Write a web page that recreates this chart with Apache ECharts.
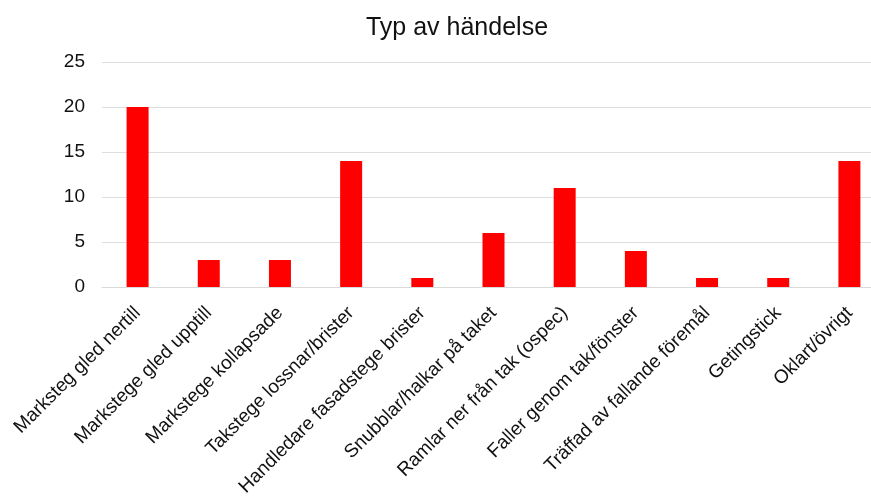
<!DOCTYPE html>
<html>
<head>
<meta charset="utf-8">
<script src="https://cdn.jsdelivr.net/npm/echarts@6/dist/echarts.min.js"></script>
<style>html,body{margin:0;padding:0;background:#fff;}#c{width:871px;height:501px;}</style>
</head>
<body>
<div id="c"></div>
<script>
const titleText = 'Typ av händelse';
const categories = [
  'Marksteg gled nertill',
  'Markstege gled upptill',
  'Markstege kollapsade',
  'Takstege lossnar/brister',
  'Handledare fasadstege brister',
  'Snubblar/halkar på taket',
  'Ramlar ner från tak (ospec)',
  'Faller genom tak/fönster',
  'Träffad av fallande föremål',
  'Getingstick',
  'Oklart/övrigt'
];
const values = [20, 3, 3, 14, 1, 6, 11, 4, 1, 1, 14];
const yTicks = { min: 0, max: 25, interval: 5 };

const chart = echarts.init(document.getElementById('c'), null, { renderer: 'canvas' });
chart.setOption({
  animation: false,
  backgroundColor: '#ffffff',
  textStyle: { fontFamily: 'Liberation Sans, Arial, sans-serif' },
  title: {
    text: titleText,
    left: 452,
    top: 11,
    textAlign: 'center',
    textStyle: { fontFamily: 'Liberation Sans, Arial, sans-serif', fontSize: 25, fontWeight: 'normal', color: '#111111' }
  },
  grid: { left: 102, right: -14, top: 62, bottom: 214, containLabel: false, outerBoundsMode: 'none' },
  xAxis: {
    type: 'category',
    data: categories,
    boundaryGap: true,
    axisLine: { show: true, lineStyle: { color: '#d9d9d9', width: 1 } },
    axisTick: { show: false },
    axisLabel: {
      interval: 0,
      rotate: 45,
      margin: 23,
      fontSize: 19,
      color: '#111111',
      fontFamily: 'Liberation Sans, Arial, sans-serif'
    }
  },
  yAxis: {
    type: 'value',
    min: yTicks.min,
    max: yTicks.max,
    interval: yTicks.interval,
    axisLine: { show: false },
    axisTick: { show: false },
    splitLine: { show: true, lineStyle: { color: '#dedede', width: 1 } },
    axisLabel: { margin: 17, fontSize: 19, color: '#111111', fontFamily: 'Liberation Sans, Arial, sans-serif' }
  },
  series: [{
    type: 'bar',
    data: values,
    barWidth: 22,
    itemStyle: { color: '#ff0000' }
  }]
});
</script>
</body>
</html>
